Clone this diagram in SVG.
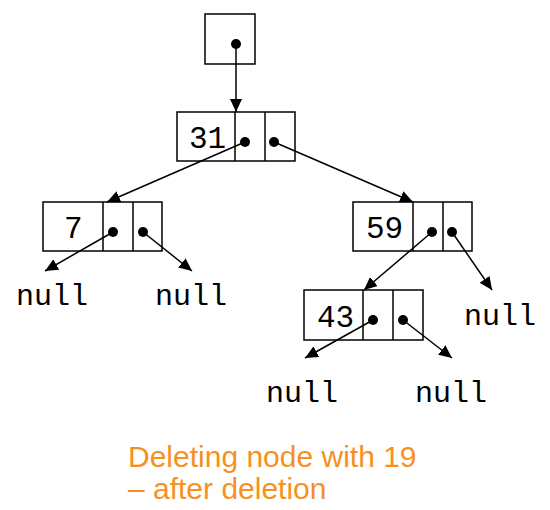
<svg xmlns="http://www.w3.org/2000/svg" width="550" height="510" viewBox="0 0 550 510">
<style>
.box{fill:#fff;stroke:#000;stroke-width:1.5}
.val{font-family:"Liberation Mono",monospace;font-size:31px;fill:#000}
.null{font-family:"Liberation Mono",monospace;font-size:30px;fill:#000}
.dot{fill:#000}
.edge{stroke:#000;stroke-width:1.5;fill:none;marker-end:url(#ah)}
.cap{font-family:"Liberation Sans",Arial,sans-serif;font-size:30px;fill:#F7901E}
</style>
<defs>
<marker id="ah" markerUnits="userSpaceOnUse" markerWidth="14" markerHeight="12" refX="13" refY="6" orient="auto">
<path d="M0,0 L13,6 L0,12 Z" fill="#000"/>
</marker>
</defs>
<g id="root">
<rect class="box" x="205" y="14" width="50" height="50"/>
</g>
<g id="n31">
<rect class="box" x="177" y="112" width="118" height="49"/>
<line x1="235" y1="112" x2="235" y2="161" stroke="#000" stroke-width="1.5"/>
<line x1="265" y1="112" x2="265" y2="161" stroke="#000" stroke-width="1.5"/>
<text class="val" x="189" y="148">31</text>
</g>
<g id="n7">
<rect class="box" x="43" y="202" width="119" height="49"/>
<line x1="103" y1="202" x2="103" y2="251" stroke="#000" stroke-width="1.5"/>
<line x1="133" y1="202" x2="133" y2="251" stroke="#000" stroke-width="1.5"/>
<text class="val" x="64" y="238">7</text>
</g>
<g id="n59">
<rect class="box" x="353" y="202" width="119" height="49"/>
<line x1="413" y1="202" x2="413" y2="251" stroke="#000" stroke-width="1.5"/>
<line x1="443" y1="202" x2="443" y2="251" stroke="#000" stroke-width="1.5"/>
<text class="val" x="366" y="238">59</text>
</g>
<g id="n43">
<rect class="box" x="304" y="290" width="119" height="50"/>
<line x1="363" y1="290" x2="363" y2="340" stroke="#000" stroke-width="1.5"/>
<line x1="393" y1="290" x2="393" y2="340" stroke="#000" stroke-width="1.5"/>
<text class="val" x="317" y="327">43</text>
</g>
<g id="nulls">
<text class="null" x="16" y="305">null</text>
<text class="null" x="155" y="305">null</text>
<text class="null" x="464" y="325">null</text>
<text class="null" x="266" y="402">null</text>
<text class="null" x="415" y="402">null</text>
</g>
<g id="connectors">
<line class="edge" x1="236" y1="44" x2="236" y2="112"/>
<line class="edge" x1="245" y1="142" x2="107" y2="202"/>
<line class="edge" x1="274" y1="142" x2="413" y2="202"/>
<line class="edge" x1="113" y1="232" x2="45" y2="271"/>
<line class="edge" x1="143" y1="232" x2="192" y2="271"/>
<line class="edge" x1="432" y1="232" x2="364" y2="290"/>
<line class="edge" x1="452" y1="232" x2="492" y2="290"/>
<line class="edge" x1="373" y1="320" x2="305" y2="358"/>
<line class="edge" x1="403" y1="320" x2="452" y2="358"/>
</g>
<g id="dots">
<circle class="dot" cx="236" cy="44" r="5"/>
<circle class="dot" cx="245" cy="142" r="5"/>
<circle class="dot" cx="274" cy="142" r="5"/>
<circle class="dot" cx="113" cy="232" r="5"/>
<circle class="dot" cx="143" cy="232" r="5"/>
<circle class="dot" cx="432" cy="232" r="5"/>
<circle class="dot" cx="452" cy="232" r="5"/>
<circle class="dot" cx="373" cy="320" r="5"/>
<circle class="dot" cx="403" cy="320" r="5"/>
</g>
<g id="caption">
<text class="cap" x="128" y="467">Deleting node with 19</text>
<text class="cap" x="128" y="499">– after deletion</text>
</g>
</svg>
